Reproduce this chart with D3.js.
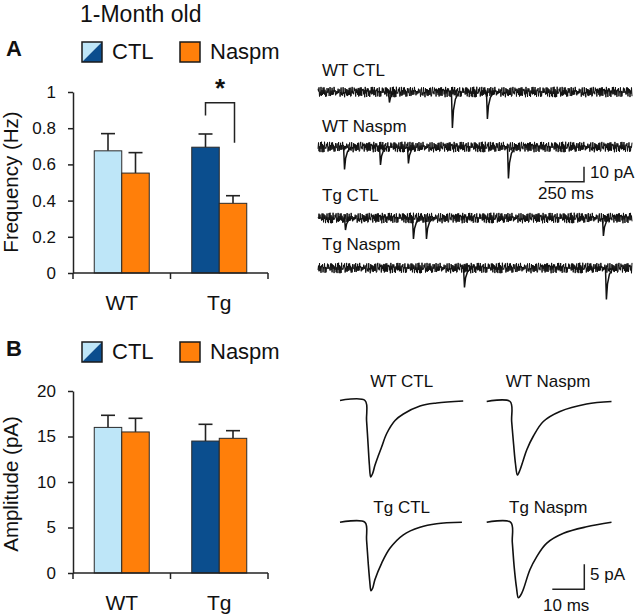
<!DOCTYPE html>
<html>
<head>
<meta charset="utf-8">
<script src="https://cdn.jsdelivr.net/npm/d3@7"></script>
<style>
  html, body { margin: 0; padding: 0; background: #fff; }
  svg { display: block; font-family: "Liberation Sans", Arial, sans-serif; }
</style>
</head>
<body>
<svg id="chart" width="640" height="616"></svg>
<script>
// ---------------- DATA ----------------
const groups = ["WT", "Tg"];
const conditions = ["CTL", "Naspm"];

// Panel A: mEPSC frequency (Hz), [CTL, Naspm] per group
const freqMeans = [[0.675, 0.552], [0.695, 0.385]];
const freqSEM   = [[0.095, 0.113], [0.073, 0.042]];
const freqTicks = [0, 0.2, 0.4, 0.6, 0.8, 1];
// significance bracket (left end, top, right end) in Hz
const bracketLevels = [0.87, 0.94, 0.72];

// Panel B: mEPSC amplitude (pA)
const ampMeans = [[16.0, 15.5], [14.5, 14.8]];
const ampSEM   = [[1.33, 1.5], [1.84, 0.84]];
const ampTicks = [0, 5, 10, 15, 20];

// Raw traces (2 s each): event [time ms, amplitude pA]
const rawNames = ["WT CTL", "WT Naspm", "Tg CTL", "Tg Naspm"];
const rawEvents = [
  [[452, 7], [853, 24], [1076, 18]],
  [[166, 15], [395, 12], [573, 11], [1210, 21]],
  [[172, 8], [605, 14], [688, 14], [1815, 12]],
  [[930, 13], [1834, 21]]
];
// recorded baseline noise samples (pA)
const noise = [
 2.1,-1.6,3.0,-0.9,1.4,-3.2,2.4,0.4,3.3,-2.1,0.3,-3.5,1.7,-0.6,3.1,-2.7,-0.4,-1.5,3.4,0.6,
 1.8,-3.0,0.9,-2.4,2.9,-1.0,2.6,-3.4,0.2,-1.8,3.2,0.7,1.5,-2.9,1.0,-2.2,2.8,-1.3,1.9,-3.3,
 0.6,-1.2,3.4,-1.9,0.0,-3.0,2.5,-0.3,3.0,-2.5,1.2,-3.5,2.2,0.3,3.1,-2.8,1.3,-1.6,2.6,-0.7,
 2.3,-3.2,0.4,-2.0,3.4,-0.9,1.6,-2.6,0.7,-3.4,2.9,0.2,2.0,-1.9,0.9,-2.9,3.3,-1.2,1.3,-2.3,
 2.7,-3.3,0.3,-1.3,3.1,-2.2,1.7,-3.0,1.0,-0.4,3.5,-1.7,0.6,-2.7,2.4,-0.9,2.9,-3.4,1.5,-1.5,
 1.2,-2.4,3.3,-0.6,1.9,-3.1,0.7,-2.0,3.0,-1.6,2.3,-3.5,0.4,-1.0,2.7,-2.3,3.4,-0.3,1.0,-2.9,
 2.2,-1.9,3.1,-1.3,0.3,-3.3,2.6,-0.7,2.9,-2.6,1.6,-1.7,3.5,-0.4,0.9,-3.0,2.0,-2.2,3.0,-1.2,
 -0.6,1.7,-2.7,0.9,3.3,-1.4,-0.3,2.4,-3.1,1.3,2.1,-2.0,3.0,-0.9,-2.6,0.4,3.4,-1.6,1.1,-2.9
];
// event waveform: [ms after onset, fraction of amplitude]
const eventShape = [[-3, 0], [3, -1], [10, -0.5], [22, -0.2], [45, 0]];

// Averaged mEPSCs: [time ms, current pA]
const avgNames = ["WT CTL", "WT Naspm", "Tg CTL", "Tg Naspm"];
const avgTraces = [
  [[0,0],[7.8,0],[8.3,-4],[8.8,-9],[9.2,-13],[9.6,-15.3],[10.2,-14.6],[10.9,-13],[12,-11],[13,-9.3],[14.6,-6.6],[17.2,-4.0],[19.8,-2.7],[25,-1.1],[30.2,-0.5],[38.5,-0.1]],
  [[0,0],[7.3,0],[7.8,-4],[8.4,-8.5],[9.0,-12.5],[9.6,-14.7],[10.4,-13.7],[11.4,-11.8],[12.5,-9.7],[14.6,-6.9],[17.7,-4.0],[22.9,-2.0],[31.2,-0.5],[39,0]],
  [[0,0],[7.8,0],[8.3,-3.5],[8.8,-8],[9.3,-11.8],[9.7,-13.7],[10.2,-13.2],[10.9,-11.5],[13,-8.2],[15.6,-5.2],[19.8,-2.5],[25,-1.0],[30.2,-0.3],[38.1,0]],
  [[0,0],[7.5,0],[8.0,-4],[8.6,-9],[9.3,-13],[9.9,-15.1],[10.6,-14.6],[11.4,-13.5],[13.5,-9.5],[15.6,-6.9],[18.7,-4.2],[24,-2.2],[31.2,-0.9],[39,0]]
];

// ---------------- STYLE ----------------
const colLight = "#BEE6F8", colDark = "#0B4E8E", colOrange = "#FF7F0A";
const barColors = [[colLight, colOrange], [colDark, colOrange]];
const font = "Liberation Sans, Arial, sans-serif";

const svg = d3.select("#chart");
svg.append("rect").attr("width", 640).attr("height", 616).attr("fill", "#fff");

svg.append("text").attr("x", 80).attr("y", 22).attr("font-size", 23).attr("fill", "#111").text("1-Month old");

// ---------------- BAR PANELS ----------------
function legend(y, letter) {
  svg.append("text").attr("x", 6).attr("y", y + 14).attr("font-size", 22).attr("font-weight", "bold").attr("fill", "#111").text(letter);
  const g = svg.append("g").attr("transform", `translate(82,${y})`);
  g.append("polygon").attr("points", "0,0 20,0 0,20").attr("fill", colLight);
  g.append("polygon").attr("points", "20,0 20,20 0,20").attr("fill", colDark);
  g.append("rect").attr("width", 20).attr("height", 20).attr("fill", "none").attr("stroke", "#1a1a1a").attr("stroke-width", 1.5);
  g.append("text").attr("x", 30).attr("y", 17).attr("font-size", 22).attr("fill", "#111").text(conditions[0]);
  g.append("rect").attr("x", 98).attr("width", 20).attr("height", 20).attr("fill", colOrange).attr("stroke", "#1a1a1a").attr("stroke-width", 1.5);
  g.append("text").attr("x", 128).attr("y", 17).attr("font-size", 22).attr("fill", "#111").text(conditions[1]);
}

function barPanel(opts) {
  const x = d3.scaleBand().domain(groups).range([73, 268]).padding(0);
  const bw = x.bandwidth();
  const x1 = d3.scaleBand().domain(conditions).range([bw / 2 - 27.5, bw / 2 + 27.5]).padding(0);
  const y = d3.scaleLinear().domain([0, opts.max]).range(opts.yRange);
  const g = svg.append("g");

  const data = [];
  groups.forEach((gr, i) => conditions.forEach((c, j) =>
    data.push({ gr, c, v: opts.means[i][j], e: opts.sem[i][j], col: barColors[i][j] })));

  g.selectAll(".err").data(data).enter().append("g").each(function (d) {
    const cx = x(d.gr) + x1(d.c) + x1.bandwidth() / 2;
    const s = d3.select(this);
    s.append("line").attr("x1", cx).attr("x2", cx).attr("y1", y(d.v)).attr("y2", y(d.v + d.e))
      .attr("stroke", "#222").attr("stroke-width", 1.6);
    s.append("line").attr("x1", cx - 7).attr("x2", cx + 7).attr("y1", y(d.v + d.e)).attr("y2", y(d.v + d.e))
      .attr("stroke", "#222").attr("stroke-width", 1.6);
  });
  g.selectAll(".bar").data(data).enter().append("rect")
    .attr("x", d => x(d.gr) + x1(d.c))
    .attr("width", x1.bandwidth())
    .attr("y", d => y(d.v))
    .attr("height", d => y(0) - y(d.v))
    .attr("fill", d => d.col).attr("stroke", "#2a2a2a").attr("stroke-width", 1);

  const ya = g.append("g").attr("transform", "translate(73,0)")
    .call(d3.axisLeft(y).tickValues(opts.ticks).tickFormat(d3.format("~g")).tickSize(5).tickSizeOuter(0).tickPadding(12));
  ya.select(".domain").attr("stroke", "#222").attr("stroke-width", 1.5);
  ya.selectAll(".tick line").attr("stroke", "#222").attr("stroke-width", 1.5);
  ya.selectAll("text").attr("font-size", 17).attr("font-family", font).attr("fill", "#111");

  const xa = g.append("g").attr("transform", `translate(0,${y(0)})`);
  xa.append("line").attr("x1", x(groups[0])).attr("x2", x(groups[1]) + bw).attr("stroke", "#222").attr("stroke-width", 1.5);
  const bounds = [x(groups[0]), x(groups[1]), x(groups[1]) + bw];
  xa.selectAll(".tk").data(bounds).enter().append("line")
    .attr("x1", d => d).attr("x2", d => d).attr("y1", 0).attr("y2", 6).attr("stroke", "#222").attr("stroke-width", 1.5);
  xa.selectAll(".lab").data(groups).enter().append("text")
    .attr("x", d => x(d) + bw / 2).attr("y", opts.labelDy).attr("text-anchor", "middle")
    .attr("font-size", 21).attr("fill", "#111").text(d => d);

  svg.append("text").attr("transform", `translate(18,${opts.titleY}) rotate(-90)`)
    .attr("text-anchor", "middle").attr("font-size", 20.5).attr("fill", "#111").text(opts.title);

  return { x, x1, y, bw };
}

legend(42, "A");
const pA = barPanel({ max: 1, yRange: [273, 92], ticks: freqTicks, means: freqMeans, sem: freqSEM,
  title: "Frequency (Hz)", titleY: 182, labelDy: 37 });
{
  const lx = pA.x("Tg") + pA.x1("CTL") + pA.x1.bandwidth() / 2;
  const rx = pA.x("Tg") + pA.x1("Naspm") + pA.x1.bandwidth() / 2 + 1.5;
  const pts = [[lx, pA.y(bracketLevels[0])], [lx, pA.y(bracketLevels[1])], [rx, pA.y(bracketLevels[1])], [rx, pA.y(bracketLevels[2])]];
  svg.append("path").attr("d", d3.line()(pts)).attr("fill", "none").attr("stroke", "#222").attr("stroke-width", 1.5);
  svg.append("text").attr("x", (lx + rx) / 2).attr("y", 97).attr("text-anchor", "middle")
    .attr("font-size", 26).attr("font-weight", "bold").attr("fill", "#111").text("*");
}

legend(342, "B");
barPanel({ max: 20, yRange: [573, 391], ticks: ampTicks, means: ampMeans, sem: ampSEM,
  title: "Amplitude (pA)", titleY: 484, labelDy: 37 });

// ---------------- RAW TRACES ----------------
const xRaw = d3.scaleLinear().domain([0, 2000]).range([318, 632]);
const yRaw = d3.scaleLinear().domain([0, 10]).range([0, -15]);
const rawBase = [92, 147, 218, 268];
const rawLabelY = [76, 132, 201, 250];
const stepMs = 3.2;
rawNames.forEach((name, k) => {
  svg.append("text").attr("x", 322).attr("y", rawLabelY[k]).attr("font-size", 17).attr("fill", "#111").text(name);
  const g = svg.append("g").attr("transform", `translate(0,${rawBase[k]})`);
  const n = Math.floor(2000 / stepMs);
  const pts = d3.range(0, n + 1).map(i => [i * stepMs, noise[(i * 7 + k * 41) % noise.length]]);
  const line = d3.line().x(d => xRaw(d[0])).y(d => yRaw(d[1]));
  g.append("path").attr("d", line(pts)).attr("fill", "none").attr("stroke", "#111").attr("stroke-width", 1);
  rawEvents[k].forEach(ev => {
    const ep = eventShape.map(s => [ev[0] + s[0], s[1] * ev[1]]);
    g.append("path").attr("d", line(ep)).attr("fill", "none").attr("stroke", "#111").attr("stroke-width", 1.5);
  });
});
{
  const x0 = 584, y0 = 181.7;
  const w = xRaw(250) - xRaw(0), h = -yRaw(10);
  svg.append("path").attr("d", d3.line()([[x0 - w, y0], [x0, y0], [x0, y0 - h]]))
    .attr("fill", "none").attr("stroke", "#222").attr("stroke-width", 1.5);
  svg.append("text").attr("x", 590).attr("y", 178).attr("font-size", 17).attr("fill", "#111").text("10 pA");
  svg.append("text").attr("x", 538).attr("y", 199).attr("font-size", 17).attr("fill", "#111").text("250 ms");
}

// ---------------- AVERAGED TRACES ----------------
const xAvg = d3.scaleLinear().domain([0, 10]).range([0, 32]);
const yAvg = d3.scaleLinear().domain([0, -5]).range([0, 25]);
const avgOrigin = [[340, 400.5], [486.7, 401.5], [340, 522.3], [486.7, 522.3]];
const avgLabel = [[401.7, 387], [548, 387], [401.7, 513], [548.3, 513]];
avgNames.forEach((name, k) => {
  svg.append("text").attr("x", avgLabel[k][0]).attr("y", avgLabel[k][1]).attr("text-anchor", "middle")
    .attr("font-size", 17).attr("fill", "#111").text(name);
  const g = svg.append("g").attr("transform", `translate(${avgOrigin[k][0]},${avgOrigin[k][1]})`);
  g.append("path").attr("d", d3.line().x(d => xAvg(d[0])).y(d => yAvg(d[1])).curve(d3.curveCatmullRom.alpha(0.5))(avgTraces[k]))
    .attr("fill", "none").attr("stroke", "#111").attr("stroke-width", 1.6);
});
{
  const x0 = 584.3, y0 = 589.3;
  const w = xAvg(10), h = yAvg(-5);
  svg.append("path").attr("d", d3.line()([[x0 - w, y0], [x0, y0], [x0, y0 - h]]))
    .attr("fill", "none").attr("stroke", "#222").attr("stroke-width", 1.5);
  svg.append("text").attr("x", 590).attr("y", 580).attr("font-size", 17).attr("fill", "#111").text("5 pA");
  svg.append("text").attr("x", 543).attr("y", 611).attr("font-size", 17).attr("fill", "#111").text("10 ms");
}
</script>
</body>
</html>
